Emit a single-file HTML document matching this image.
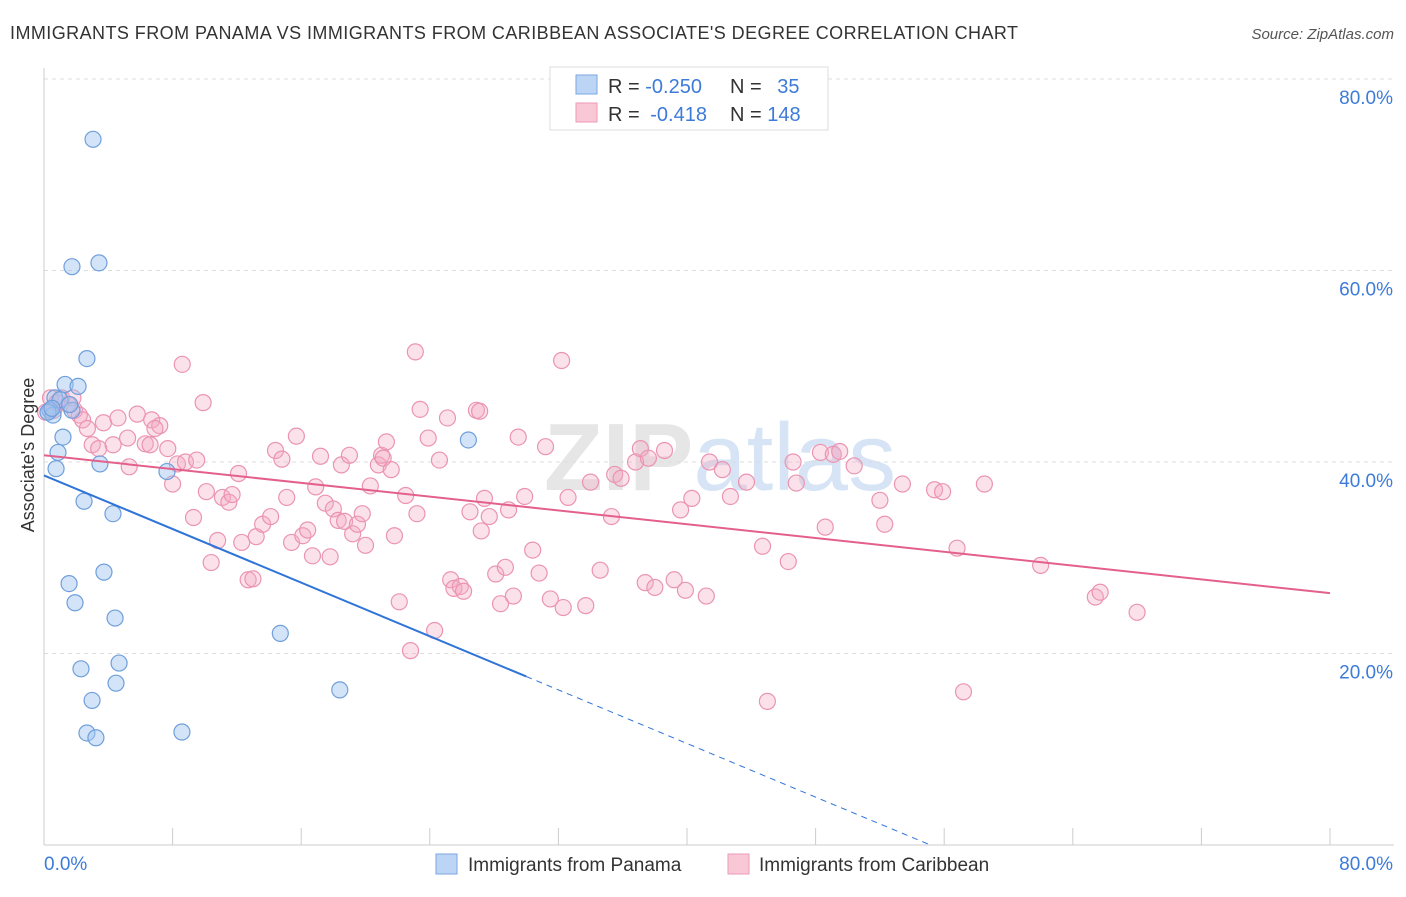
<!DOCTYPE html>
<html><head><meta charset="utf-8"><style>
body{margin:0;background:#fff;font-family:"Liberation Sans",sans-serif;}
svg text{font-family:"Liberation Sans",sans-serif;}
</style></head><body>
<svg id="chart" width="1406" height="892" viewBox="0 0 1406 892">
<text x="10" y="39" font-size="18" fill="#333" textLength="1008" lengthAdjust="spacing">IMMIGRANTS FROM PANAMA VS IMMIGRANTS FROM CARIBBEAN ASSOCIATE'S DEGREE CORRELATION CHART</text>
<text x="1394" y="39" font-size="15" fill="#555" font-style="italic" text-anchor="end">Source: ZipAtlas.com</text>
<text x="720" y="490" font-size="96" fill="#e6e6e6" text-anchor="middle" font-family="Liberation Serif" font-weight="bold">ZIP<tspan fill="#d6e4f5" font-family="Liberation Sans" font-weight="normal">atlas</tspan></text>
<g id="grid"></g><g id="axes"></g><g id="pts"></g><g id="trend"></g>
<text transform="translate(34,455) rotate(-90)" font-size="18" fill="#333" text-anchor="middle">Associate's Degree</text>
<g>
<rect x="550" y="67" width="278" height="63" fill="#fff" stroke="#ddd"/>
<rect x="576" y="75" width="21" height="19" fill="#bcd5f5" stroke="#7aa6e0"/>
<rect x="576" y="103" width="21" height="19" fill="#f9c8d6" stroke="#ee9ab4"/>
<text x="608" y="93" font-size="20" fill="#333">R = <tspan fill="#3d7bd9">-0.250</tspan></text>
<text x="730" y="93" font-size="20" fill="#333">N = <tspan fill="#3d7bd9" dx="10">35</tspan></text>
<text x="608" y="121" font-size="20" fill="#333">R = <tspan fill="#3d7bd9" dx="5">-0.418</tspan></text>
<text x="730" y="121" font-size="20" fill="#333">N = <tspan fill="#3d7bd9">148</tspan></text>
</g>
<g>
<rect x="436" y="854" width="21" height="20" fill="#bcd5f5" stroke="#7aa6e0"/>
<text x="468" y="871" font-size="19" fill="#333">Immigrants from Panama</text>
<rect x="728" y="854" width="21" height="20" fill="#f9c8d6" stroke="#ee9ab4"/>
<text x="759" y="871" font-size="19" fill="#333">Immigrants from Caribbean</text>
</g>
</svg>
<script>
const yTicks=[20,40,60,80];
const yTickLabels=["20.0%","40.0%","60.0%","80.0%"];
const xTickVals=[0,8,16,24,32,40,48,56,64,72,80];
const panamaX=[3.05,1.74,3.42,2.67,1.31,2.12,0.68,1.0,0.37,0.56,1.74,1.18,0.87,3.48,0.75,7.65,2.49,4.29,26.4,1.56,3.73,1.93,4.42,14.7,2.3,4.67,4.48,2.99,18.4,2.67,3.23,8.58,0.25,0.5,1.6];
const panamaY=[73.7,60.4,60.8,50.8,48.1,47.9,46.7,46.5,45.4,44.9,45.4,42.6,41.0,39.8,39.3,39.0,35.9,34.6,42.3,27.3,28.5,25.3,23.7,22.1,18.4,19.0,16.9,15.1,16.2,11.7,11.2,11.8,45.2,45.6,46.0];
const caribX=[0.4,0.8,1.1,1.5,1.8,0.6,0.1,1.9,2.2,2.4,2.7,3.7,3.0,3.4,4.3,4.6,5.2,5.8,6.3,6.6,6.7,7.2,6.9,5.3,7.7,8.0,8.3,8.6,8.8,9.5,9.9,10.1,9.3,10.4,10.8,11.1,11.5,11.7,12.1,12.3,12.7,13.0,13.2,13.6,14.1,14.4,14.8,15.1,15.4,15.7,16.1,16.4,16.7,16.9,17.2,17.5,17.8,18.0,18.3,18.5,18.7,19.0,19.2,19.5,19.8,20.0,20.3,20.8,21.0,21.1,21.3,21.6,21.8,22.1,22.5,22.8,23.1,23.2,23.4,23.9,24.3,24.6,25.1,25.3,25.5,25.9,26.1,26.5,26.9,27.1,27.2,27.4,27.7,28.1,28.4,28.7,28.9,29.2,29.5,29.9,30.4,30.8,31.2,31.5,32.2,32.3,32.6,33.7,34.0,34.6,35.3,35.5,35.9,36.8,37.1,37.4,37.6,38.0,38.6,39.2,39.6,39.9,40.3,41.2,41.4,42.2,42.7,43.7,44.7,45.0,46.3,46.6,46.8,48.3,48.6,49.1,49.5,50.4,52.0,52.3,53.4,55.4,55.9,56.8,57.2,58.5,62.0,65.4,65.7,68.0];
const caribY=[46.7,46.2,46.7,46.0,46.7,45.4,45.2,45.4,44.9,44.4,43.5,44.1,41.8,41.4,41.8,44.6,42.5,45.0,41.9,41.8,44.4,43.8,43.5,39.5,41.4,37.7,39.8,50.2,40.0,40.2,46.2,36.9,34.2,29.5,31.8,36.3,35.8,36.6,38.8,31.6,27.7,27.8,32.2,33.5,34.3,41.2,40.3,36.3,31.6,42.7,32.3,32.9,30.2,37.4,40.6,35.7,30.1,35.1,33.9,39.7,33.8,40.7,32.5,33.5,34.6,31.3,37.5,39.7,40.7,40.4,42.1,39.2,32.3,25.4,36.5,20.3,51.5,34.6,45.5,42.5,22.4,40.2,44.6,27.7,26.8,27.0,26.5,34.8,45.4,45.3,32.8,36.2,34.3,28.3,25.2,29.0,35.0,26.0,42.6,36.4,30.8,28.4,41.6,25.7,50.6,24.8,36.3,25.0,37.9,28.7,34.3,38.7,38.3,40.0,41.4,27.4,40.4,26.9,41.2,27.7,35.0,26.6,36.2,26.0,40.0,39.2,36.4,37.9,31.2,15.0,29.6,40.0,37.8,41.0,33.2,40.8,41.1,39.6,36.0,33.5,37.7,37.1,36.9,31.0,16.0,37.7,29.2,25.9,26.4,24.3];
const panamaTrend=[38.6,-0.70];
const caribTrend=[40.7,-0.18];

const NS="http://www.w3.org/2000/svg";
const X0=44,X1=1330,Y0=845,Y1=79;
function xs(v){return X0+v/80*(X1-X0);}
function ys(v){return Y0-v/80*(Y0-Y1);}
function mk(tag,attrs,parent){const e=document.createElementNS(NS,tag);for(const k in attrs)e.setAttribute(k,attrs[k]);document.getElementById(parent).appendChild(e);return e;}
yTicks.forEach((t,i)=>{
  const g=mk('line',{x1:X0,x2:1394,y1:ys(t),y2:ys(t),stroke:'#ddd','stroke-dasharray':'4,4'},'grid');
  
  
  const l=mk('text',{x:1393,y:ys(t)+25,'font-size':19,fill:'#3d7bd9','text-anchor':'end'},'axes');
  l.textContent=yTickLabels[i];
  
  
});
const ax=mk('line',{x1:X0,x2:X0,y1:68,y2:Y0,stroke:'#ccc'},'axes');


const bx=mk('line',{x1:X0,x2:1394,y1:Y0,y2:Y0,stroke:'#ccc'},'axes');


xTickVals.forEach(t=>{
  const tk=mk('line',{x1:xs(t),x2:xs(t),y1:Y0,y2:Y0-17,stroke:'#ccc'},'axes');
  
  
});
const xl0=mk('text',{x:44,y:870,'font-size':19,fill:'#3d7bd9'},'axes');xl0.textContent='0.0%';


const xl1=mk('text',{x:1393,y:870,'font-size':19,fill:'#3d7bd9','text-anchor':'end'},'axes');xl1.textContent='80.0%';


caribX.forEach((v,i)=>{
  const c=mk('circle',{cx:xs(v),cy:ys(caribY[i]),r:8,fill:'rgba(244,170,195,0.35)',stroke:'#eb94b2','stroke-width':1.2},'pts');
  
  
});
panamaX.forEach((v,i)=>{
  const c=mk('circle',{cx:xs(v),cy:ys(panamaY[i]),r:8,fill:'rgba(160,195,240,0.45)',stroke:'#6f9fdc','stroke-width':1.2},'pts');
  
  
});
const pEnd=30,pZero=-panamaTrend[0]/panamaTrend[1];
const t1=mk('line',{x1:xs(0),y1:ys(panamaTrend[0]),x2:xs(pEnd),y2:ys(panamaTrend[0]+panamaTrend[1]*pEnd),stroke:'#2f74d8','stroke-width':2},'trend');


const t2=mk('line',{x1:xs(pEnd),y1:ys(panamaTrend[0]+panamaTrend[1]*pEnd),x2:xs(pZero),y2:ys(0),stroke:'#2f74d8','stroke-width':1,'stroke-dasharray':'6,5'},'trend');


const t3=mk('line',{x1:xs(0),y1:ys(caribTrend[0]),x2:xs(80),y2:ys(caribTrend[0]+caribTrend[1]*80),stroke:'#e4608c','stroke-width':2},'trend');


</script>
</body></html>
